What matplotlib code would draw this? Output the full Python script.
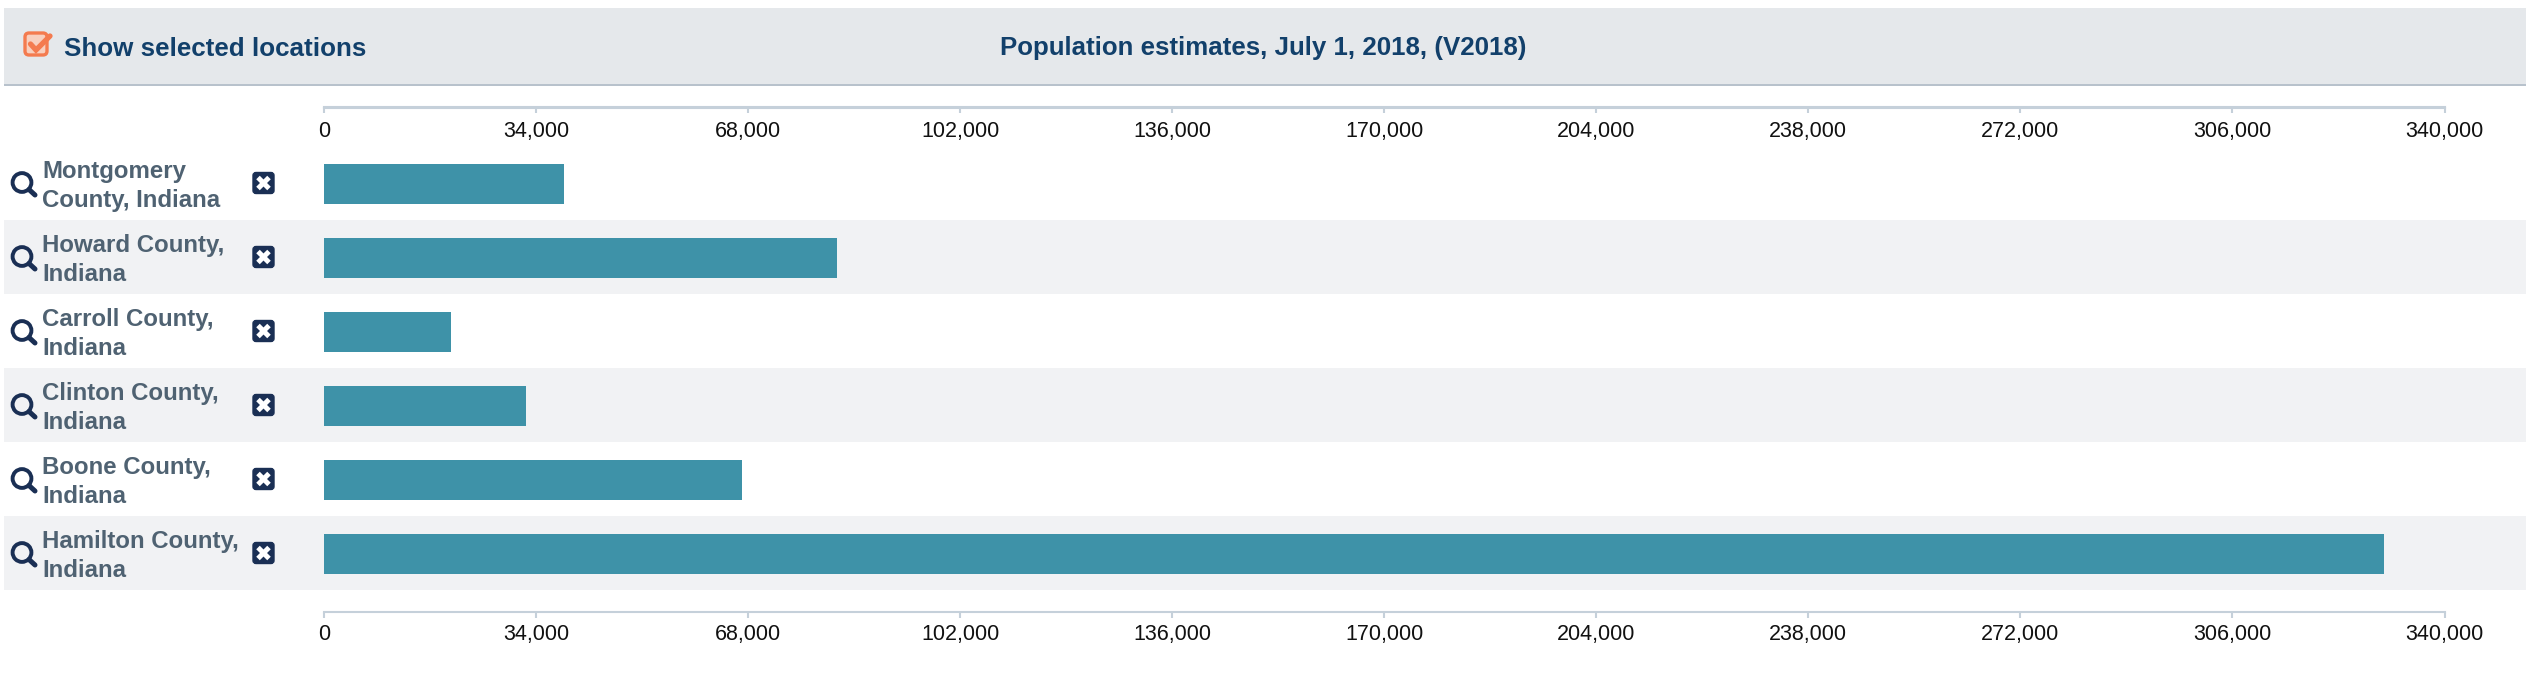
import matplotlib
matplotlib.use("Agg")
import matplotlib.pyplot as plt
from matplotlib.patches import Rectangle, FancyBboxPatch, Circle
from matplotlib.ticker import FuncFormatter

locations = ["Montgomery\nCounty, Indiana", "Howard County,\nIndiana", "Carroll County,\nIndiana",
             "Clinton County,\nIndiana", "Boone County,\nIndiana", "Hamilton County,\nIndiana"]
population = [38500, 82300, 20300, 32400, 67000, 330300]
tick_values = [0, 34000, 68000, 102000, 136000, 170000, 204000, 238000, 272000, 306000, 340000]
title = "Population estimates, July 1, 2018, (V2018)"
checkbox_label = "Show selected locations"

W, H = 2526, 678
plt.rcParams["font.family"] = ["Liberation Sans", "DejaVu Sans"]
fig = plt.figure(figsize=(W / 100, H / 100), dpi=100, facecolor="white")

# pixel-space backdrop / decoration layer
bg = fig.add_axes([0, 0, 1, 1], zorder=0)
bg.set_xlim(0, W)
bg.set_ylim(H, 0)
bg.axis("off")
bg.add_patch(Rectangle((4, 8), W - 4, 76, fc="#e5e8eb", ec="none"))
bg.add_patch(Rectangle((4, 84), W - 4, 2, fc="#b8c2cc", ec="none"))
ROW_TOP, ROW_H = 146, 74
for i in range(len(locations)):
    if i % 2 == 1:
        bg.add_patch(Rectangle((4, ROW_TOP + i * ROW_H), W - 4, ROW_H, fc="#f1f2f4", ec="none"))

# checkbox icon
bg.add_patch(FancyBboxPatch((25, 33), 22, 22, boxstyle="round,pad=0,rounding_size=4",
                            fc="#f8d0bf", ec="#f47b4f", lw=2.4))
bg.plot([30.5, 36, 50], [44, 50, 36], color="#f47b4f", lw=3.8, solid_capstyle="round", solid_joinstyle="miter")
bg.text(64, 49, checkbox_label, fontsize=18.7, fontweight="bold", color="#12406b", va="center", ha="left")
bg.text(1263, 47.5, title, fontsize=18.65, fontweight="bold", color="#12406b", va="center", ha="center")

for i, name in enumerate(locations):
    cy = ROW_TOP + i * ROW_H + 36
    bg.text(42.5, cy + 4, name, fontsize=17.3, fontweight="bold", color="#4f6272", va="center", ha="left",
            linespacing=1.38)
    # magnifier
    bg.add_patch(Circle((22, cy + 0.5), 9.4, fc="none", ec="#1a2f54", lw=2.8))
    bg.plot([29, 35], [cy + 7.5, cy + 13], color="#1a2f54", lw=3.6, solid_capstyle="round")
    # remove button
    bg.add_patch(FancyBboxPatch((253, cy - 9.5), 21, 21, boxstyle="round,pad=0,rounding_size=3",
                                fc="#1a2f54", ec="#1a2f54", lw=1))
    bg.plot([258, 269], [cy - 4.5, cy + 6.5], color="white", lw=3.6, solid_capstyle="butt")
    bg.plot([258, 269], [cy + 6.5, cy - 4.5], color="white", lw=3.6, solid_capstyle="butt")

# data axes: x spans 0..340000; spines sit at px 107 and 611
L, R, T, B = 324, 2444.5, 107.5, 611.5
ax = fig.add_axes([L / W, 1 - B / H, (R - L) / W, (B - T) / H], zorder=1)
ax.patch.set_alpha(0)
ypos = list(range(len(locations)))
ax.barh(ypos, population, height=40 / ROW_H, color="#3e92a8", linewidth=0)
ax.set_xlim(tick_values[0], tick_values[-1])
ax.set_ylim((B - (ROW_TOP + ROW_H / 2 + 1)) / ROW_H, (T - (ROW_TOP + ROW_H / 2 + 1)) / ROW_H)
ax.set_yticks([])
for s in ("left", "right"):
    ax.spines[s].set_visible(False)
for s in ("top", "bottom"):
    ax.spines[s].set_color("#c5d0da")
    ax.spines[s].set_linewidth(1.5)
ax.set_xticks(tick_values)
ax.xaxis.set_major_formatter(FuncFormatter(lambda v, p: f"{int(v):,}"))
ax.tick_params(axis="x", top=False, bottom=True, length=4.2, width=1.5, color="#c5d0da", labelsize=15.5,
               labelcolor="#111111", pad=5)

top = ax.secondary_xaxis("top")
top.set_xticks(tick_values)
top.xaxis.set_major_formatter(FuncFormatter(lambda v, p: f"{int(v):,}"))
top.spines["top"].set_color("#c5d0da")
top.spines["top"].set_linewidth(1.5)
# top axis carries its ticks inward (downward) with labels below the line
top.tick_params(axis="x", direction="in", length=4.2, width=1.5, color="#c5d0da", labelsize=15.5,
                labelcolor="#111111", pad=-24.5)

fig.savefig("out.png", dpi=100, facecolor="white")
